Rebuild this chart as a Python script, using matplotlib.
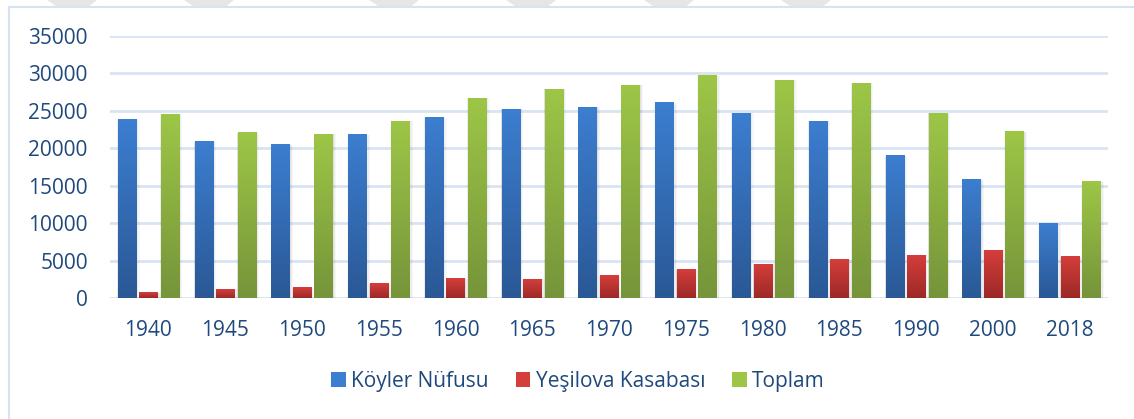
import matplotlib.pyplot as plt
import numpy as np
from matplotlib.patches import Patch, Rectangle, Polygon
from matplotlib.colors import LinearSegmentedColormap

years = ['1940', '1945', '1950', '1955', '1960', '1965', '1970',
         '1975', '1980', '1985', '1990', '2000', '2018']
koyler = [23800, 20900, 20500, 21800, 24100, 25200, 25500,
          26100, 24700, 23600, 19000, 15800, 9900]
yesilova = [700, 1200, 1400, 1900, 2600, 2500, 3000,
            3800, 4500, 5100, 5700, 6400, 5500]
toplam = [24500, 22100, 21900, 23600, 26700, 27900, 28400,
          29700, 29100, 28700, 24700, 22200, 15500]

series = [
    ('Köyler Nüfusu', koyler, '#3C7ED0', '#2A5895'),
    ('Yeşilova Kasabası', yesilova, '#D43E3B', '#9C2927'),
    ('Toplam', toplam, '#9DC647', '#76943A'),
]

text_color = '#1F497D'
plt.rcParams['font.family'] = ['Open Sans', 'DejaVu Sans']

fig = plt.figure(figsize=(11.34, 4.19), dpi=100)

# watermark stripes along the top edge
for x0 in [47, 184, 369, 506, 644, 781]:
    pts = [(x0 / 1134, 1), ((x0 + 50) / 1134, 1),
           ((x0 + 40) / 1134, 1 - 8 / 419), ((x0 + 12) / 1134, 1 - 8 / 419)]
    fig.patches.append(Polygon(pts, closed=True, transform=fig.transFigure,
                               facecolor='#E6E6E6', edgecolor='none', zorder=0))

# chart frame
fig.patches.append(Rectangle((9 / 1134, -0.05), 1.2, 1 - 7 / 419 + 0.05,
                             transform=fig.transFigure, facecolor='none',
                             edgecolor='#D6E3F3', linewidth=1.5, zorder=1))

ax = fig.add_axes([110 / 1134, 121 / 419, 998 / 1134, 262 / 419])
x = np.arange(len(years))
width = 0.235
offsets = [-0.28, 0.0, 0.28]

for (name, vals, top, bottom), off in zip(series, offsets):
    cmap = LinearSegmentedColormap.from_list(name, [bottom, top])
    bars = ax.bar(x + off, vals, width, color=top, zorder=3, label=name)
    for b in bars:
        bx, bw, bh = b.get_x(), b.get_width(), b.get_height()
        # soft shadow
        for k, a in enumerate([0.05, 0.04, 0.03]):
            d = 0.012 * (k + 1)
            ax.add_patch(Rectangle((bx - d * 0.3, -250 * (k + 1)), bw + d * 1.6, bh + 250 * (k + 1),
                                   facecolor='black', alpha=a, edgecolor='none', zorder=2))
        grad = np.linspace(0, 1, 256).reshape(-1, 1)
        ax.imshow(grad, cmap=cmap, origin='lower', aspect='auto',
                  extent=(bx, bx + bw, 0, bh), zorder=4)
        b.set_visible(False)

ax.set_xlim(-0.5, len(years) - 0.5)
ax.set_ylim(0, 35000)
ax.set_yticks(np.arange(0, 35001, 5000))
ax.set_xticks(x)
ax.set_xticklabels(years)
ax.grid(axis='y', color='#D9E4F2', linewidth=2, zorder=0)
ax.set_axisbelow(True)
for s in ax.spines.values():
    s.set_visible(False)
ax.tick_params(axis='both', length=0, labelsize=15, labelcolor=text_color)
ax.tick_params(axis='y', pad=16)
ax.tick_params(axis='x', pad=16)

handles = [Patch(facecolor=t, edgecolor='none') for _, _, t, _ in series]
fig.legend(handles, [s[0] for s in series], loc='center',
           bbox_to_anchor=(578 / 1134, 1 - 381 / 419), ncol=3, frameon=False,
           fontsize=15, labelcolor=text_color, handlelength=0.7, handleheight=0.7,
           handletextpad=0.25, columnspacing=1.3)

fig.savefig('out.png', dpi=100)
